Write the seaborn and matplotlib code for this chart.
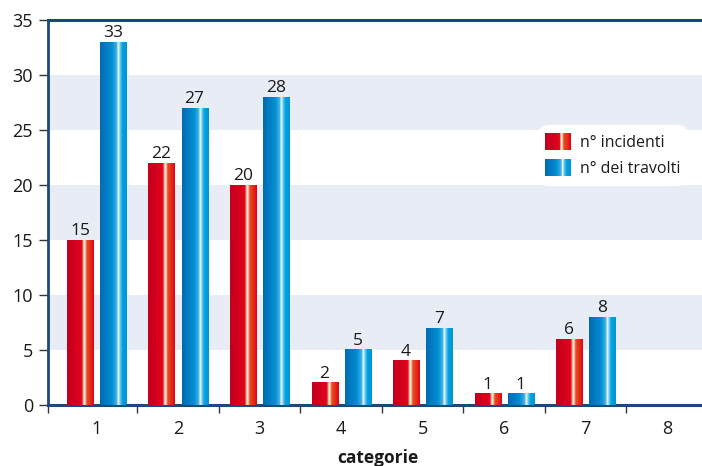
import numpy as np
import pandas as pd
import seaborn as sns
import matplotlib
matplotlib.use("Agg")
import matplotlib.pyplot as plt
from matplotlib.colors import LinearSegmentedColormap
from matplotlib.patches import Rectangle
from matplotlib.legend_handler import HandlerBase

# --- data -------------------------------------------------------------
categorie = ["1", "2", "3", "4", "5", "6", "7", "8"]
incidenti = [15, 22, 20, 2, 4, 1, 6, np.nan]
travolti = [33, 27, 28, 5, 7, 1, 8, np.nan]
serie = ["n° incidenti", "n° dei travolti"]
y_ticks = [0, 5, 10, 15, 20, 25, 30, 35]

df = pd.DataFrame({
    "categoria": categorie * 2,
    "valore": incidenti + travolti,
    "serie": [serie[0]] * len(categorie) + [serie[1]] * len(categorie),
})

# --- styling ----------------------------------------------------------
sns.set_style("white")
plt.rcParams["font.family"] = ["Open Sans", "DejaVu Sans"]

navy = "#1c4880"
band = "#e8ecf5"
text_col = "#1a1a1a"

red_cmap = LinearSegmentedColormap.from_list("rosso", [
    (0.00, "#c2001d"), (0.30, "#d4001d"), (0.55, "#e2051b"),
    (0.60, "#f4a084"), (0.645, "#ffffff"), (0.69, "#f6b098"),
    (0.73, "#e9501f"), (0.86, "#e52d1a"), (1.00, "#e2001a")])
blue_cmap = LinearSegmentedColormap.from_list("blu", [
    (0.00, "#006ab2"), (0.45, "#008fd3"), (0.62, "#3fb2e6"),
    (0.68, "#ffffff"), (0.74, "#72cff1"), (0.83, "#00a2e1"),
    (1.00, "#0094d6")])
cmaps = [red_cmap, blue_cmap]

W, H = 702, 466
fig = plt.figure(figsize=(W / 100, H / 100), dpi=100)
ax_left, ax_right, ax_top, ax_bottom = 47.5, 708.0, 20.0, 405.0
ax = fig.add_axes([ax_left / W, 1 - ax_bottom / H,
                   (ax_right - ax_left) / W, (ax_bottom - ax_top) / H])

for lo in (5, 15, 25):
    ax.axhspan(lo, lo + 5, color=band, zorder=0, lw=0)

sns.barplot(data=df, x="categoria", y="valore", hue="serie",
            order=categorie, hue_order=serie,
            palette=["#e2001a", "#0094d6"], width=0.81, gap=0.21,
            legend=False, ax=ax, zorder=2)

xlim = (-0.601, 7.5)
ylim = (0, 35)

# gradient fill for every bar, plus value labels
valori = [incidenti, travolti]
for i, cont in enumerate(ax.containers):
    grad = cmaps[i](np.linspace(0, 1, 256))[np.newaxis, :, :]
    for rect, v in zip(cont.patches, valori[i]):
        h = rect.get_height()
        if not np.isfinite(h) or h <= 0:
            rect.set_visible(False)
            continue
        x0, w = rect.get_x(), rect.get_width()
        ax.imshow(grad, extent=[x0, x0 + w, 0, h], aspect="auto",
                  interpolation="bilinear", zorder=3)
        rect.set_facecolor("none")
        rect.set_edgecolor("none")
        ax.text(x0 + w / 2, h + 0.05, f"{int(v)}", ha="center", va="bottom",
                fontsize=12.5, color=text_col, zorder=4)

ax.set_xlim(*xlim)
ax.set_ylim(*ylim)
ax.set_aspect("auto")

# axes frame
for side in ("left", "bottom", "top"):
    ax.spines[side].set_visible(True)
    ax.spines[side].set_color(navy)
ax.spines["left"].set_linewidth(2.0)
ax.spines["bottom"].set_linewidth(2.2)
ax.spines["top"].set_linewidth(2.2)
ax.spines["right"].set_visible(False)

ax.set_yticks(y_ticks)
ax.tick_params(axis="y", which="major", direction="out", length=6.5,
               width=1.0, color="#333333", pad=4, labelsize=13,
               labelcolor=text_col, left=True)

ax.set_xticks(range(len(categorie)))
ax.set_xticklabels(categorie)
ax.set_xticks([xlim[0]] + [k + 0.5 for k in range(7)], minor=True)
ax.tick_params(axis="x", which="major", length=0, pad=11, labelsize=13,
               labelcolor=text_col, bottom=True)
ax.tick_params(axis="x", which="minor", direction="out", length=6,
               width=1.0, color="#333333", bottom=True)

ax.set_xlabel("categorie", fontsize=12.5, fontweight="bold", color=text_col,
              labelpad=8)
ax.set_ylabel("")


class GradientHandler(HandlerBase):
    def __init__(self, cmap):
        super().__init__()
        self.cmap = cmap

    def create_artists(self, legend, orig_handle, xdescent, ydescent,
                       width, height, fontsize, trans):
        n = 48
        arts = []
        for k in range(n):
            arts.append(Rectangle((-xdescent + width * k / n, -ydescent),
                                  width / n * 1.08, height,
                                  facecolor=self.cmap((k + 0.5) / n),
                                  edgecolor="none", transform=trans))
        return arts


proxies = [Rectangle((0, 0), 1, 1) for _ in serie]
leg = ax.legend(proxies, serie,
                handler_map={p: GradientHandler(c) for p, c in zip(proxies, cmaps)},
                loc="upper left",
                bbox_to_anchor=(537 / W, 1 - 125 / H),
                bbox_transform=fig.transFigure,
                fontsize=11.5, frameon=True, fancybox=True, framealpha=1,
                facecolor="white", edgecolor="white",
                handlelength=1.62, handleheight=1.25, handletextpad=0.56,
                labelspacing=0.5, borderpad=0.5, borderaxespad=0)
leg.get_frame().set_boxstyle("round", pad=0.0, rounding_size=0.8)
for t in leg.get_texts():
    t.set_color(text_col)

fig.savefig("out.png", dpi=100)
